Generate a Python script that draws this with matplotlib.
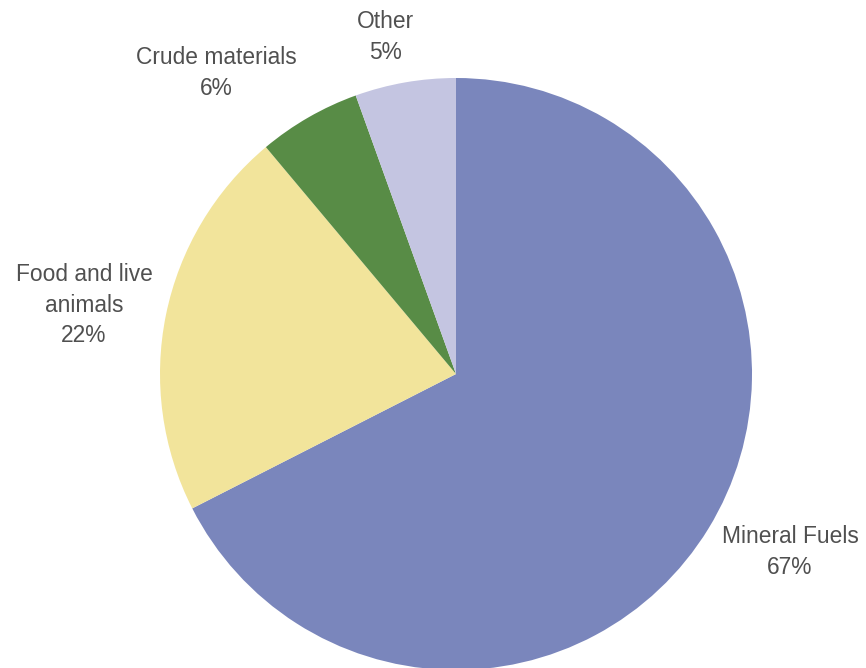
import matplotlib
matplotlib.use('Agg')
import matplotlib.pyplot as plt

categories = ['Mineral Fuels', 'Food and live\nanimals', 'Crude materials', 'Other']
shares = [67.5, 21.4, 5.6, 5.5]
pct_labels = ['67%', '22%', '6%', '5%']
colors = ['#7A86BC', '#F2E49B', '#588C46', '#C4C5E1']

W, H = 866, 668
fig = plt.figure(figsize=(W / 100, H / 100), dpi=100)
ax = fig.add_axes([0, 0, 1, 1])

# pie centre and radius in pixel units
ax.pie(shares, colors=colors, startangle=90, counterclock=False,
       center=(456, H - 374), radius=296, frame=True,
       wedgeprops=dict(linewidth=0))
ax.set_xlim(0, W)
ax.set_ylim(0, H)
ax.set_aspect('equal')
ax.axis('off')

# label anchor points (pixel, from top)
label_pos = [(790, 552), (84, 305), (216, 73), (385, 37)]
for name, pct, (x, y) in zip(categories, pct_labels, label_pos):
    ax.text(x, H - y, f'{name}\n{pct}', ha='center', va='center',
            fontsize=16.4, color='#505050', family='Liberation Sans',
            linespacing=1.42)

fig.savefig('out.png', dpi=100)
